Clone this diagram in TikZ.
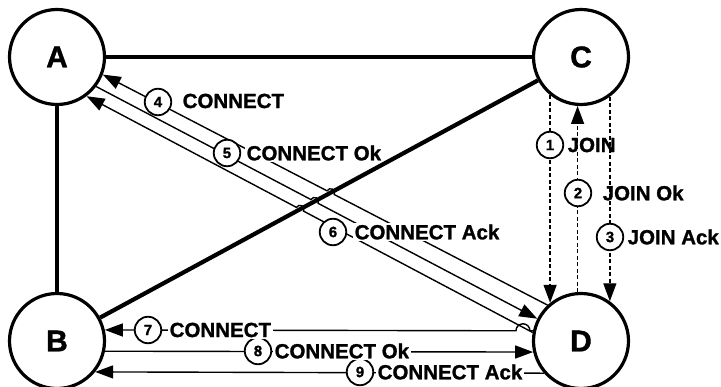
\documentclass[tikz,border=0pt]{standalone}
\usepackage{fontspec}
\setmainfont{Liberation Sans}[BoldFeatures={FakeBold=1.2}]
\usetikzlibrary{arrows.meta,calc}
\begin{document}
\begin{tikzpicture}[x=1pt,y=-1pt,
  site/.style={circle,draw,line width=3.2pt,minimum size=95pt,inner sep=0pt,font=\fontsize{30}{30}\selectfont\bfseries},
  link/.style={line width=4.2pt},
  msg/.style={line width=1.4pt},
  arr/.style={-{Triangle[length=18pt,width=13pt]}},
  jn/.style={msg,dash pattern=on 4pt off 2.5pt},
  num/.style={circle,draw,fill=white,line width=1.8pt,minimum size=26.5pt,inner sep=0pt,font=\fontsize{15}{15}\selectfont\bfseries},
  lbl/.style={anchor=west,inner sep=1.5pt,fill=white,font=\fontsize{20.5}{20.5}\selectfont\bfseries},
  jlbl/.style={lbl,fill=none},
]
\useasboundingbox (0,0) rectangle (721,387);
\fill[white] (0,0) rectangle (721,387);

% sites
\node[site] (A) at (57,57) {A};
\node[site] (C) at (581,57) {C};
\node[site] (B) at (57,341) {B};
\node[site] (D) at (581,341) {D};

% links
\draw[link] (A) -- (C);
\draw[link] (A) -- (B);
\draw[link] (B) -- (C);

% diagonal message end points
\coordinate (a4) at (A.339);
\coordinate (d4) at (D.133);
\coordinate (a5) at (A.323);
\coordinate (d5) at (D.153);
\coordinate (a6) at (A.307);
\coordinate (d6) at (D.170);
\coordinate (bc) at (B.center);
\coordinate (cc) at (C.center);
\coordinate (x4) at (intersection of a4--d4 and bc--cc);
\coordinate (x5) at (intersection of a5--d5 and bc--cc);
\coordinate (x6) at (intersection of a6--d6 and bc--cc);

% 4 CONNECT (D -> A)
\draw[msg,arr] (d4) -- ($(x4)!4pt!(d4)$) arc[start angle=-27.2,end angle=152.8,radius=4pt] -- (a4);
% 5 CONNECT Ok (A -> D)
\draw[msg,arr] (a5) -- ($(x5)!4pt!(a5)$) arc[start angle=152.3,end angle=-27.7,radius=4pt] -- (d5);
% 6 CONNECT Ack (D -> A)
\draw[msg,arr] (d6) -- ($(x6)!4pt!(d6)$) arc[start angle=-27.9,end angle=152.1,radius=4pt] -- (a6);

% horizontal messages
\coordinate (d7) at (D.168);
\coordinate (b7) at (B.13);
\draw[msg,arr] (d7) -- ++(-3,0) arc[start angle=0,end angle=180,radius=7pt] -- (b7);
\draw[msg,arr] (B.348) -- (D.193);
\draw[msg,arr] (D.221) -- (B.321);

% join messages
\draw[jn,arr] (C.231) -- (D.129);
\draw[jn,arr] (D.94) -- (C.266);
\draw[jn,arr] (C.306) -- (D.54);

% numbered circles
\node[num] (n1) at (550,145) {1};
\node[num] (n2) at (578,193) {2};
\node[num] (n3) at (610,237) {3};
\node[num] (n4) at (158,102) {4};
\node[num] (n5) at (227,153) {5};
\node[num] (n6) at (333,232) {6};
\node[num] (n7) at (148,330) {7};
\node[num] (n8) at (258,351) {8};
\node[num] (n9) at (360,372) {9};

% labels
\node[jlbl] (t1) at (566,145) {JOIN};
\node[jlbl] (t2) at (601,193) {JOIN Ok};
\node[jlbl] (t3) at (626,237) {JOIN Ack};
\node[lbl] (t4) at (181,101) {CONNECT};
\node[lbl] (t5) at (245,153) {CONNECT Ok};
\node[lbl] (t6) at (353,232) {CONNECT Ack};
\node[lbl] (t7) at (168,330) {CONNECT};
\node[lbl] (t8) at (273,351) {CONNECT Ok};
\node[lbl] (t9) at (376,372) {CONNECT Ack};
\end{tikzpicture}
\end{document}
